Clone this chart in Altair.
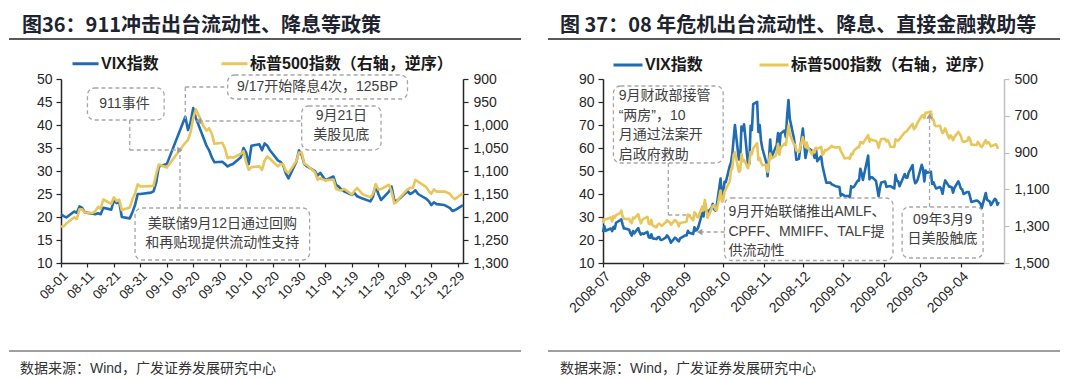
import altair as alt
import pandas as pd

BLUE = "#1f6cb3"
GOLD = "#e8c65a"
GREY = "#a6a6a6"
ARROW = "#9a9a9a"
TXT = "#404040"
DARK = "#262626"
FONT = "Liberation Sans, Noto Sans CJK SC, sans-serif"
CJK = "Noto Sans CJK SC, Liberation Sans, sans-serif"

SER_V = "VIX指数"
SER_S = "标普500指数（右轴，逆序）"

# ---------------- Panel 1: 2001 ----------------
DAYS_2001 = {
    "2001-08": [1, 2, 3, 6, 7, 8, 9, 10, 13, 14, 15, 16, 17, 20, 21, 22, 23, 24, 27, 28, 29, 30, 31],
    "2001-09": [4, 5, 6, 7, 10, 17, 18, 19, 20, 21, 24, 25, 26, 27, 28],
    "2001-10": [1, 2, 3, 4, 5, 8, 9, 10, 11, 12, 15, 16, 17, 18, 19, 22, 23, 24, 25, 26, 29, 30, 31],
    "2001-11": [1, 2, 5, 6, 7, 8, 9, 12, 13, 14, 15, 16, 19, 20, 21, 23, 26, 27, 28, 29, 30],
    "2001-12": [3, 4, 5, 6, 7, 10, 11, 12, 13, 14, 17, 18, 19, 20, 21, 24, 26, 27, 28, 31],
}
VIX_2001 = [
    20.6, 20.2, 19.9, 21.2, 20.9, 22.3, 22.0, 21.0, 20.7, 20.6, 20.8, 20.6, 22.0, 21.6, 23.6, 23.0, 23.3, 20.0, 19.7, 21.0, 22.6, 25.0, 25.0,
    25.3, 25.6, 27.5, 31.0, 31.5, 41.8, 38.9, 40.6, 43.7, 41.5, 37.0, 35.5, 34.5, 33.0, 31.9,
    32.0, 31.5, 31.0, 31.3, 31.5, 33.0, 35.0, 34.0, 31.5, 35.5, 35.8, 34.5, 36.0, 35.5, 34.5, 32.3, 32.0, 31.3, 29.5, 28.4, 32.0, 34.5, 33.5,
    31.5, 31.0, 30.0, 29.0, 29.6, 28.8, 28.0, 28.8, 27.0, 26.6, 26.0, 25.6, 24.8, 25.2, 24.5, 24.0, 23.4, 24.5, 26.9, 25.0, 23.7,
    25.5, 26.6, 23.7, 23.5, 24.0, 25.6, 25.0, 25.3, 25.8, 25.0, 24.0, 23.5, 22.6, 23.2, 22.8, 22.6, 22.0, 21.3, 21.5, 22.6,
]
SPX_2001 = [
    1220.75, 1220.40, 1214.35, 1200.48, 1204.40, 1183.53, 1183.43, 1190.16, 1191.29, 1186.73, 1178.02, 1181.66, 1161.97, 1171.41, 1157.26, 1165.31, 1162.09, 1184.93, 1179.21, 1161.51, 1148.56, 1129.03, 1133.58,
    1132.94, 1131.74, 1106.40, 1085.78, 1092.54, 1038.77, 1032.74, 1016.10, 984.54, 965.80, 1003.45, 1012.27, 1007.04, 1018.61, 1040.94,
    1038.55, 1051.33, 1072.28, 1069.63, 1071.38, 1062.44, 1056.75, 1080.99, 1097.43, 1091.65, 1089.98, 1097.54, 1077.09, 1068.61, 1073.48, 1089.90, 1084.78, 1085.20, 1100.09, 1104.61, 1078.30, 1059.79, 1059.78,
    1084.10, 1087.20, 1102.84, 1118.86, 1115.80, 1118.54, 1120.31, 1118.33, 1139.09, 1141.21, 1142.24, 1138.65, 1151.06, 1142.66, 1137.03, 1150.34, 1157.42, 1149.50, 1128.52, 1140.20, 1139.45,
    1129.90, 1144.80, 1170.35, 1167.10, 1158.31, 1139.93, 1136.76, 1137.07, 1119.38, 1123.09, 1134.36, 1142.92, 1149.56, 1139.93, 1144.89, 1144.65, 1149.37, 1157.13, 1161.02, 1148.08,
]
XTICKS_2001 = ["2001-08-01", "2001-08-11", "2001-08-21", "2001-08-31", "2001-09-10", "2001-09-20",
               "2001-09-30", "2001-10-10", "2001-10-20", "2001-10-30", "2001-11-09", "2001-11-19",
               "2001-11-29", "2001-12-09", "2001-12-19", "2001-12-29"]
VTICKS_2001 = [10, 15, 20, 25, 30, 35, 40, 45, 50]
STICKS_2001 = [900, 950, 1000, 1050, 1100, 1150, 1200, 1250, 1300]

# annotations (date, VIX-axis units); text y = first line
BOX_2001 = {"x": ["2001-08-11", "2001-08-29", "2001-10-03", "2001-10-31"],
            "x2": ["2001-09-09", "2001-11-03", "2001-12-10", "2001-11-30"],
            "y": [48.04, 21.96, 50.87, 44.13],
            "y2": [41.09, 10.65, 45.65, 34.57]}
NOTE_2001 = {"label": ["911事件", "美联储9月12日通过回购\n和再贴现提供流动性支持",
                       "9/17开始降息4次，125BP", "9月21日\n美股见底"],
             "x": ["2001-08-25", "2001-10-01", "2001-11-06", "2001-11-15"],
             "y": [44.57, 18.48, 48.26, 41.96],
             "align": ["center", "center", "center", "center"]}
LINK_2001 = {"x": ["2001-08-27", "2001-08-27", "2001-09-15", "2001-09-17", "2001-09-17", "2001-09-22"],
             "x2": ["2001-08-27", "2001-09-15", "2001-09-15", "2001-10-03", "2001-09-17", "2001-10-31"],
             "y": [41.09, 34.57, 21.96, 48.26, 48.26, 40.87],
             "y2": [34.57, 34.57, 34.57, 48.26, 41.09, 40.87]}
ARROW_2001 = {"x": ["2001-09-22", "2001-09-15"], "y": [40.87, 34.57],
              "shape": ["triangle-left", "triangle-right"]}

# ---------------- Panel 2: 2008-2009 ----------------
DAYS_0809 = {
    "2008-07": [1, 2, 3, 7, 8, 9, 10, 11, 14, 15, 16, 17, 18, 21, 22, 23, 24, 25, 28, 29, 30, 31],
    "2008-08": [1, 4, 5, 6, 7, 8, 11, 12, 13, 14, 15, 18, 19, 20, 21, 22, 25, 26, 27, 28, 29],
    "2008-09": [2, 3, 4, 5, 8, 9, 10, 11, 12, 15, 16, 17, 18, 19, 22, 23, 24, 25, 26, 29, 30],
    "2008-10": [1, 2, 3, 6, 7, 8, 9, 10, 13, 14, 15, 16, 17, 20, 21, 22, 23, 24, 27, 28, 29, 30, 31],
    "2008-11": [3, 4, 5, 6, 7, 10, 11, 12, 13, 14, 17, 18, 19, 20, 21, 24, 25, 26, 28],
    "2008-12": [1, 2, 3, 4, 5, 8, 9, 10, 11, 12, 15, 16, 17, 18, 19, 22, 23, 24, 26, 29, 30, 31],
    "2009-01": [2, 5, 6, 7, 8, 9, 12, 13, 14, 15, 16, 20, 21, 22, 23, 26, 27, 28, 29, 30],
    "2009-02": [2, 3, 4, 5, 6, 9, 10, 11, 12, 13, 17, 18, 19, 20, 23, 24, 25, 26, 27],
    "2009-03": [2, 3, 4, 5, 6, 9, 10, 11, 12, 13, 16, 17, 18, 19, 20, 23, 24, 25, 26, 27, 30, 31],
    "2009-04": [1, 2, 3, 6, 7, 8, 9, 13, 14, 15, 16, 17, 20, 21, 22, 23, 24, 27, 28, 29, 30],
}
VIX_0809 = [
    23.4, 26.0, 24.0, 25.0, 23.9, 25.7, 24.9, 27.5, 28.6, 29.0, 26.8, 25.0, 25.0, 24.5, 22.9, 21.9, 23.9, 22.9, 25.2, 23.4, 22.3, 22.9,
    22.6, 23.5, 21.2, 21.0, 22.5, 20.7, 20.4, 21.2, 21.3, 20.1, 20.0, 21.0, 22.0, 21.3, 20.3, 18.8, 21.0, 20.7, 19.9, 19.4, 20.7,
    22.0, 22.0, 24.0, 23.1, 22.6, 25.5, 24.1, 24.4, 25.7, 31.7, 30.3, 36.2, 33.1, 32.1, 33.9, 35.7, 33.4, 32.8, 34.7, 46.7, 39.4,
    39.8, 45.3, 45.1, 52.1, 53.7, 57.5, 63.9, 70.0, 55.0, 55.1, 69.3, 67.6, 70.3, 53.0, 53.1, 69.7, 67.8, 79.1, 80.1, 67.0, 70.0, 62.9, 59.9,
    53.7, 47.7, 54.6, 63.7, 56.1, 60.0, 61.3, 66.5, 59.8, 66.3, 67.6, 64.7, 74.3, 80.9, 72.7, 64.7, 60.9, 54.9, 55.3,
    68.5, 62.0, 55.7, 58.6, 59.9, 58.9, 57.6, 55.7, 59.9, 54.3, 56.4, 52.4, 49.8, 47.3, 44.9, 45.0, 44.2, 44.0, 43.4, 43.0, 39.2, 40.0,
    39.2, 39.1, 38.6, 43.4, 42.8, 43.0, 45.8, 45.8, 51.0, 49.0, 46.1, 56.7, 46.4, 47.3, 47.3, 45.7, 42.3, 39.0, 42.6, 45.0,
    45.4, 43.1, 43.3, 43.4, 43.4, 42.4, 48.4, 45.7, 45.5, 43.4, 48.7, 47.1, 47.1, 49.3, 52.6, 47.0, 44.7, 45.2, 46.4,
    52.7, 50.9, 45.5, 50.2, 49.3, 49.7, 44.4, 45.1, 43.6, 42.4, 43.0, 42.1, 40.1, 43.7, 45.9, 43.2, 43.2, 42.9, 40.6, 42.6, 45.5, 44.1,
    42.3, 42.0, 40.0, 40.9, 40.9, 38.9, 36.5, 37.2, 37.0, 36.4, 35.8, 33.9, 40.4, 37.5, 37.1, 36.8, 35.2, 37.9, 37.4, 35.3, 36.5,
]
SPX_0809 = [
    1284.91, 1261.52, 1262.90, 1252.31, 1273.70, 1244.69, 1253.39, 1239.49, 1228.30, 1214.91, 1245.36, 1260.32, 1260.68, 1260.00, 1277.00, 1282.19, 1252.54, 1257.76, 1234.37, 1263.20, 1284.26, 1267.38,
    1260.31, 1249.01, 1284.88, 1289.19, 1266.07, 1296.32, 1305.32, 1289.59, 1285.83, 1292.93, 1298.20, 1278.60, 1266.69, 1274.54, 1277.72, 1292.20, 1266.84, 1271.51, 1281.66, 1300.68, 1282.83,
    1277.58, 1274.98, 1236.83, 1242.31, 1267.79, 1224.51, 1232.04, 1249.05, 1251.70, 1192.70, 1213.60, 1156.39, 1206.51, 1255.08, 1207.09, 1188.22, 1185.87, 1209.18, 1213.27, 1106.39, 1166.36,
    1161.06, 1114.28, 1099.23, 1056.89, 996.23, 984.94, 909.92, 899.22, 1003.35, 998.01, 907.84, 946.43, 940.55, 985.40, 955.05, 896.78, 908.11, 876.77, 848.92, 940.51, 930.09, 954.09, 968.75,
    966.30, 1005.75, 952.77, 904.88, 930.99, 919.21, 898.95, 852.30, 911.29, 873.29, 850.75, 859.12, 806.58, 752.44, 800.03, 851.81, 857.39, 887.68, 896.24,
    816.21, 848.81, 870.74, 845.22, 876.07, 909.70, 888.67, 899.24, 873.59, 879.73, 868.57, 913.18, 904.42, 885.28, 887.88, 871.63, 863.16, 868.15, 872.80, 869.42, 890.64, 903.25,
    931.80, 927.45, 934.70, 906.65, 909.73, 890.35, 870.26, 871.79, 842.62, 843.74, 850.12, 805.22, 840.24, 827.50, 831.95, 836.57, 845.71, 874.09, 845.14, 825.88,
    825.44, 838.51, 832.23, 845.85, 868.60, 869.89, 827.16, 833.74, 835.19, 826.84, 789.17, 788.42, 778.94, 770.05, 743.33, 773.14, 764.90, 752.83, 735.09,
    700.82, 696.33, 712.87, 682.55, 683.38, 676.53, 719.60, 721.36, 750.74, 756.55, 753.89, 778.12, 794.35, 784.04, 768.54, 822.92, 806.12, 813.88, 832.86, 815.94, 787.53, 797.87,
    811.08, 834.38, 842.50, 835.48, 815.55, 825.16, 856.56, 858.73, 841.50, 852.06, 865.30, 869.60, 832.39, 850.08, 843.55, 851.92, 866.23, 857.51, 855.16, 873.64, 872.81,
]
XTICKS_0809 = ["2008-07-01", "2008-08-01", "2008-09-01", "2008-10-01", "2008-11-01", "2008-12-01",
               "2009-01-01", "2009-02-01", "2009-03-01", "2009-04-01"]
VTICKS_0809 = [10, 20, 30, 40, 50, 60, 70, 80, 90]
STICKS_0809 = [500, 700, 900, 1100, 1300, 1500]

BOX_0809 = {"x": ["2008-07-09", "2008-10-02", "2009-02-15"],
            "x2": ["2008-10-01", "2009-02-08", "2009-04-18"],
            "y": [86.96, 38.26, 34.35],
            "y2": [53.48, 11.09, 12.17]}
NOTE_0809 = {"label": ["9月财政部接管\n“两房”，10\n月通过法案开\n启政府救助",
                       "9月开始联储推出AMLF、\nCPFF、MMIFF、TALF提\n供流动性",
                       "09年3月9\n日美股触底"],
             "x": ["2008-07-13", "2008-10-05", "2009-03-18"],
             "y": [82.6, 32.17, 28.7],
             "align": ["left", "left", "center"]}
LINK_0809 = {"x": ["2008-08-20", "2008-08-20", "2008-09-13", "2009-03-08"],
             "x2": ["2008-08-20", "2008-09-06", "2008-10-02", "2009-03-08"],
             "y": [53.48, 30.87, 23.48, 34.35],
             "y2": [30.87, 30.87, 23.48, 73.9]}
ARROW_0809 = {"x": ["2008-09-13", "2009-03-08"], "y": [23.48, 73.9],
              "shape": ["triangle-left", "triangle-up"]}

SOURCE = "数据来源：Wind，广发证券发展研究中心"


def ms(s):
    return int(pd.Timestamp(s, tz="UTC").value // 10**6)


def series_frame(days, vix, spx):
    dates = [f"{m}-{d:02d}" for m, ds in days.items() for d in ds]
    return pd.DataFrame({"date": dates, "vix": vix, "spx": spx})


def panel(df, cfg):
    xs = alt.Scale(type="utc", domain=[ms(cfg["xdom"][0]), ms(cfg["xdom"][1])])
    xax = alt.Axis(values=[ms(t) for t in cfg["xticks"]], format=cfg["xfmt"], labelAngle=-45,
                   labelFontSize=cfg["xlabsize"], tickSize=4, labelPadding=2, labelOverlap=False,
                   labelFlush=False, labelBound=False, grid=False, title=None,
                   domainColor=DARK, tickColor=DARK)

    def X(f):
        return alt.X(f"{f}:T", scale=xs, axis=xax, title=None)

    vscale = alt.Scale(domain=cfg["vdom"], nice=False, zero=False)

    def YA(f):
        return alt.Y(f"{f}:Q", scale=vscale, axis=None, title=None)

    color = alt.Color("series:N",
                      scale=alt.Scale(domain=[SER_V, SER_S], range=[BLUE, GOLD]),
                      legend=alt.Legend(orient="none", legendX=cfg["legx"], legendY=-30,
                                        direction="horizontal", symbolType="stroke",
                                        symbolSize=cfg["symsize"], symbolStrokeWidth=3,
                                        labelFontSize=16, labelFontWeight="bold", labelFont=FONT,
                                        labelColor="#1a1a1a", columnPadding=cfg["colpad"],
                                        padding=0, title=None, labelLimit=500, labelOffset=1))

    base = alt.Chart(df)
    vline = base.transform_calculate(series=f"'{SER_V}'").mark_line(
        strokeWidth=2.6, strokeJoin="round").encode(
        x=X("date"),
        y=alt.Y("vix:Q", scale=vscale, title=None,
                axis=alt.Axis(orient="left", values=cfg["vticks"], tickSize=5, labelPadding=4,
                              labelFontSize=14, grid=False, title=None,
                              domainColor=DARK, tickColor=DARK)),
        color=color)
    sline = base.transform_calculate(series=f"'{SER_S}'").mark_line(
        strokeWidth=2.6, strokeJoin="round").encode(
        x=X("date"),
        y=alt.Y("spx:Q", scale=alt.Scale(domain=cfg["sdom"], reverse=True, nice=False, zero=False),
                title=None,
                axis=alt.Axis(orient="right", values=cfg["sticks"], format=",.0f", tickSize=5,
                              labelPadding=5, labelFontSize=14, grid=False, title=None,
                              domainColor=cfg["raxis"], tickColor=cfg["raxis"])),
        color=color)

    boxes = alt.Chart(pd.DataFrame(cfg["box"])).mark_rect(
        fill="transparent", stroke=GREY, strokeWidth=1.3, strokeDash=[4, 3], cornerRadius=7
    ).encode(x=X("x"), x2="x2", y=YA("y"), y2="y2")

    links = alt.Chart(pd.DataFrame(cfg["link"])).mark_rule(
        color=GREY, strokeWidth=1.3, strokeDash=[4, 3]
    ).encode(x=X("x"), x2="x2", y=YA("y"), y2="y2")

    arrows = alt.Chart(pd.DataFrame(cfg["arrow"])).mark_point(
        filled=True, color=ARROW, size=40, opacity=1
    ).encode(x=X("x"), y=YA("y"), shape=alt.Shape("shape:N", scale=None, legend=None))

    notes = pd.DataFrame(cfg["note"])
    texts = []
    for al in ["left", "center"]:
        sub = notes[notes["align"] == al]
        if len(sub):
            texts.append(alt.Chart(sub).mark_text(
                align=al, baseline="middle", lineBreak="\n", lineHeight=19.5,
                font=FONT, fontSize=14, color=TXT
            ).encode(x=X("x"), y=YA("y"), text="label:N"))

    one = pd.DataFrame({"k": [0]})
    top_rule = alt.Chart(one).mark_rule(color="#595959", strokeWidth=2).encode(
        x=alt.value(cfg["rule"][0]), x2=alt.value(cfg["rule"][1]), y=alt.value(-40))
    bot_rule = alt.Chart(one).mark_rule(color="#7f7f7f", strokeWidth=1.5).encode(
        x=alt.value(cfg["rule"][0]), x2=alt.value(cfg["rule"][1]), y=alt.value(272))
    title = alt.Chart(one).mark_text(
        text=cfg["title"], align="left", baseline="middle", font=CJK, fontSize=20,
        fontWeight="bold", color="#1e2330").encode(x=alt.value(cfg["titlex"]), y=alt.value(-53))
    source = alt.Chart(one).mark_text(
        text=SOURCE, align="left", baseline="middle", font=FONT, fontSize=14,
        color="#333333").encode(x=alt.value(cfg["srcx"]), y=alt.value(290))

    layers = [vline, sline, boxes, links, arrows] + texts + [top_rule, bot_rule, title, source]
    return alt.layer(*layers).resolve_scale(y="independent").properties(
        width=cfg["w"], height=184)


cfg1 = dict(xdom=["2001-08-01", "2001-12-31"], xticks=XTICKS_2001, xfmt="%m-%d", xlabsize=13,
            vdom=[10, 50], vticks=VTICKS_2001, sdom=[900, 1300], sticks=STICKS_2001,
            raxis=DARK, legx=10, symsize=676, colpad=56,
            box=BOX_2001, note=NOTE_2001, link=LINK_2001, arrow=ARROW_2001,
            rule=[-52, 460], title="图36：911冲击出台流动性、降息等政策", titlex=-39, srcx=-41, w=402)
cfg2 = dict(xdom=["2008-07-01", "2009-05-04"], xticks=XTICKS_0809, xfmt="%Y-%m", xlabsize=14,
            vdom=[10, 90], vticks=VTICKS_0809, sdom=[500, 1500], sticks=STICKS_0809,
            raxis="#bfbfbf", legx=9, symsize=841, colpad=50,
            box=BOX_0809, note=NOTE_0809, link=LINK_0809, arrow=ARROW_0809,
            rule=[-55, 457], title="图 37：08 年危机出台流动性、降息、直接金融救助等", titlex=-43,
            srcx=-43, w=401)

left = panel(series_frame(DAYS_2001, VIX_2001, SPX_2001), cfg1)
right = panel(series_frame(DAYS_0809, VIX_0809, SPX_0809), cfg2)

chart = alt.hconcat(left, right, spacing=25).resolve_scale(color="independent").resolve_legend(
    color="independent").properties(
    padding={"left": 0, "top": 8, "right": 0, "bottom": 0}, background="white"
).configure_view(stroke=None).configure_axis(
    labelFont="Liberation Sans", labelColor=DARK, domainWidth=1.5, tickWidth=1.2
)

chart.save("out.html", embed_options={"renderer": "svg", "actions": False})
